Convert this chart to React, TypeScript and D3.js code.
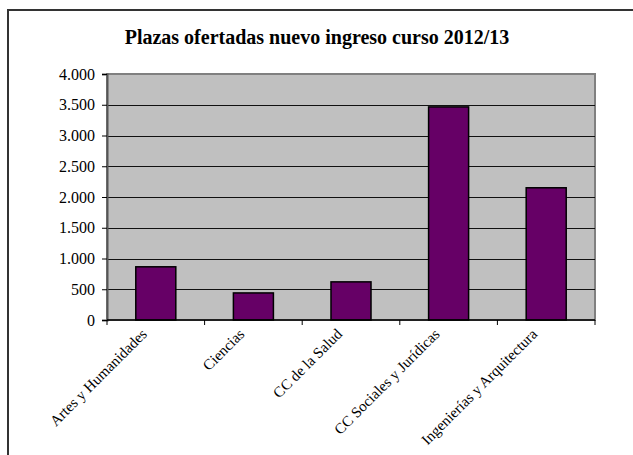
import * as React from "react";
import * as d3 from "d3";

const categories = [
  "Artes y Humanidades",
  "Ciencias",
  "CC de la Salud",
  "CC Sociales y Jurídicas",
  "Ingenierías y Arquitectura",
];
const plazas = [865, 440, 620, 3465, 2150];
const yTicks = [0, 500, 1000, 1500, 2000, 2500, 3000, 3500, 4000];

const title = "Plazas ofertadas nuevo ingreso curso 2012/13";
const W = 633;
const H = 455;
const margin = { top: 74, right: 38, bottom: 135, left: 107 };
const font = "'Liberation Serif', 'Times New Roman', serif";

export default function App() {
  const ref = React.useRef<SVGSVGElement>(null);

  React.useEffect(() => {
    const svg = d3.select(ref.current);
    svg.selectAll("*").remove();

    const width = W - margin.left - margin.right;
    const height = H - margin.top - margin.bottom;

    const x = d3.scaleBand().domain(categories).range([0, width]).paddingInner(0.59).paddingOuter(0.295);
    const y = d3.scaleLinear().domain([0, 4000]).range([height, 0]);
    const fmt = (d: number) => d3.format(",")(d).replace(/,/g, ".");

    // outer frame, right and bottom edges fall outside the picture
    svg
      .append("rect")
      .attr("x", 8)
      .attr("y", 10)
      .attr("width", W + 20)
      .attr("height", H + 20)
      .attr("fill", "#fff")
      .attr("stroke", "#333")
      .attr("stroke-width", 2);

    svg
      .append("text")
      .attr("x", 317)
      .attr("y", 44)
      .attr("text-anchor", "middle")
      .attr("font-family", font)
      .attr("font-weight", "bold")
      .attr("font-size", 20)
      .text(title);

    const g = svg.append("g").attr("transform", `translate(${margin.left},${margin.top})`);

    g.append("rect")
      .attr("width", width)
      .attr("height", height)
      .attr("fill", "#c0c0c0")
      .attr("stroke", "#808080")
      .attr("stroke-width", 2);

    g.selectAll(".grid")
      .data(yTicks.filter((d) => d > 0 && d < 4000))
      .enter()
      .append("line")
      .attr("class", "grid")
      .attr("x1", 0)
      .attr("x2", width)
      .attr("y1", (d) => Math.round(y(d)) + 0.5)
      .attr("y2", (d) => Math.round(y(d)) + 0.5)
      .attr("stroke", "#111")
      .attr("stroke-width", 1.2);

    g.selectAll(".bar")
      .data(plazas)
      .enter()
      .append("rect")
      .attr("class", "bar")
      .attr("x", (d, i) => x(categories[i]) as number)
      .attr("y", (d) => y(d))
      .attr("width", x.bandwidth())
      .attr("height", (d) => height - y(d))
      .attr("fill", "#660066")
      .attr("stroke", "#000")
      .attr("stroke-width", 1.5);

    const yAxis = d3.axisLeft(y).tickValues(yTicks).tickSize(5).tickPadding(7).tickFormat((d) => fmt(d as number));
    g.append("g")
      .call(yAxis)
      .call((n) => n.select(".domain").attr("stroke", "#555").attr("stroke-width", 2))
      .call((n) => n.selectAll(".tick line").attr("stroke", "#000"))
      .call((n) =>
        n.selectAll(".tick text").attr("font-family", font).attr("font-size", 16).attr("fill", "#000")
      );

    const step = width / categories.length;
    const xTicks = d3.range(categories.length + 1).map((i) => i * step);
    const xAxisG = g.append("g").attr("transform", `translate(0,${height})`);
    xAxisG
      .append("line")
      .attr("x1", 0)
      .attr("x2", width)
      .attr("stroke", "#000")
      .attr("stroke-width", 1.5);
    xAxisG
      .selectAll(".xtick")
      .data(xTicks)
      .enter()
      .append("line")
      .attr("class", "xtick")
      .attr("x1", (d) => d)
      .attr("x2", (d) => d)
      .attr("y1", 0)
      .attr("y2", 5)
      .attr("stroke", "#000");

    xAxisG
      .selectAll(".xlabel")
      .data(categories)
      .enter()
      .append("text")
      .attr("class", "xlabel")
      .attr("transform", (d) => `translate(${(x(d) as number) + x.bandwidth() / 2 - 8},${15}) rotate(-45)`)
      .attr("text-anchor", "end")
      .attr("font-family", font)
      .attr("font-size", 15)
      .text((d) => d);
  }, []);

  return <svg ref={ref} width={W} height={H} style={{ position: "absolute", left: 0, top: 0 }} />;
}
